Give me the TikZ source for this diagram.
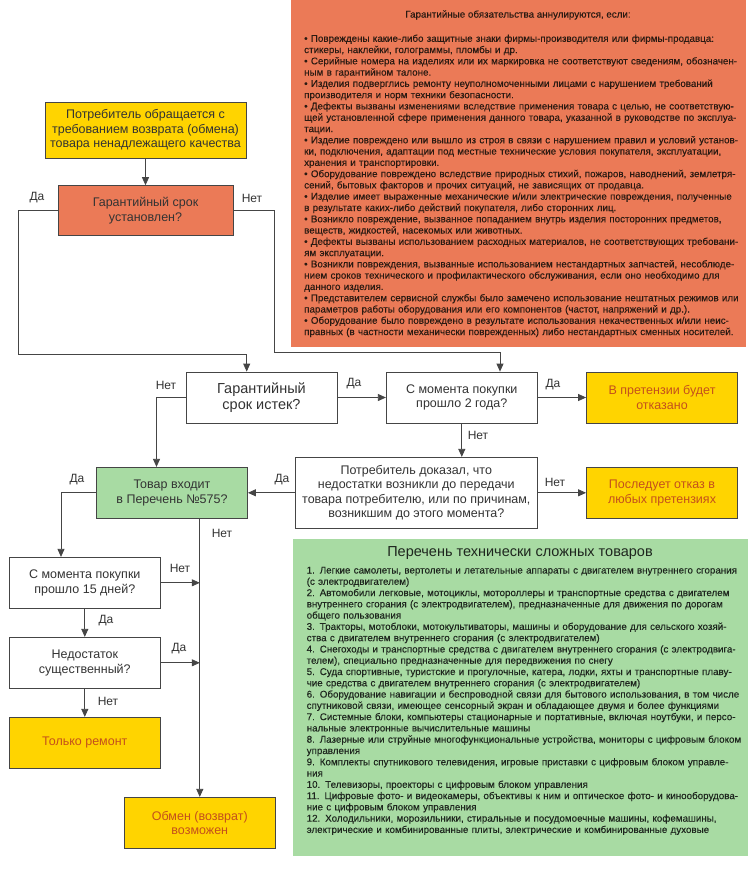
\documentclass[tikz,border=0pt]{standalone}
\usepackage{fontspec}
\setmainfont{Liberation Sans}
\newfontfamily\listfont[FakeBold=0.3]{Liberation Sans}
\usetikzlibrary{arrows.meta}
\definecolor{cyel}{HTML}{FFD400}
\definecolor{corg}{HTML}{EB7A57}
\definecolor{cgrn}{HTML}{A8DBA3}
\definecolor{cline}{HTML}{454545}
\definecolor{ctxt}{HTML}{333333}
\definecolor{cres}{HTML}{C4501C}
\definecolor{otxt}{HTML}{2A1A12}
\definecolor{gtxt}{HTML}{1E261E}
\setlength\parindent{0pt}
\newcommand{\oj}[1]{\makebox[434pt][s]{#1}}
\newcommand{\gj}[1]{\makebox[435pt][s]{#1}}
\begin{document}
\begin{tikzpicture}[x=1pt,y=-1pt,
  box/.style={draw=cline, line width=0.8pt, minimum width=151pt, minimum height=51pt, inner sep=2pt, align=center, font=\fontsize{12.5}{14.5}\selectfont, text=ctxt},
  dec/.style={box, fill=white},
  res/.style={box, fill=cyel, text=cres},
  lbl/.style={font=\fontsize{12}{14}\selectfont, text=ctxt, inner sep=0},
  conn/.style={draw=cline, line width=0.8pt},
  arr/.style={conn, -{Triangle[length=8pt,width=7pt]}},
  listtext/.style={anchor=north west, inner sep=0, align=left, font=\listfont\fontsize{9.8}{11.28}\selectfont},
]
\path[use as bounding box, fill=white] (0,0) rectangle (747,870);

% info panels
\fill[corg] (291,-2) rectangle (745.7,347);
\fill[cgrn] (292.7,539) rectangle (749,856);

\node[font=\listfont\fontsize{9.8}{11.28}\selectfont, text=otxt, inner sep=0] (otitle) at (518,15) {Гарантийные обязательства аннулируются, если:};
\node[listtext, text width=434pt, text=otxt] (olist) at (304,33.6) {\rule{0pt}{8pt}\oj{• Повреждены какие-либо защитные знаки фирмы-производителя или фирмы-продавца:}\\
стикеры, наклейки, голограммы, пломбы и др.\\
\oj{• Серийные номера на изделиях или их маркировка не соответствуют сведениям, обозначен-}\\
ным в гарантийном талоне.\\
\oj{• Изделия подверглись ремонту неуполномоченными лицами с нарушением требований}\\
производителя и норм техники безопасности.\\
\oj{• Дефекты вызваны изменениями вследствие применения товара с целью, не соответствую-}\\
\oj{щей установленной сфере применения данного товара, указанной в руководстве по эксплуа-}\\
тации.\\
\oj{• Изделие повреждено или вышло из строя в связи с нарушением правил и условий установ-}\\
\oj{ки, подключения, адаптации под местные технические условия покупателя, эксплуатации,}\\
хранения и транспортировки.\\
\oj{• Оборудование повреждено вследствие природных стихий, пожаров, наводнений, землетря-}\\
сений, бытовых факторов и прочих ситуаций, не зависящих от продавца.\\
\oj{• Изделие имеет выраженные механические и/или электрические повреждения, полученные}\\
в результате каких-либо действий покупателя, либо сторонних лиц.\\
\oj{• Возникло повреждение, вызванное попаданием внутрь изделия посторонних предметов,}\\
веществ, жидкостей, насекомых или животных.\\
\oj{• Дефекты вызваны использованием расходных материалов, не соответствующих требовани-}\\
ям эксплуатации.\\
\oj{• Возникли повреждения, вызванные использованием нестандартных запчастей, несоблюде-}\\
\oj{нием сроков технического и профилактического обслуживания, если оно необходимо для}\\
данного изделия.\\
\oj{• Представителем сервисной службы было замечено использование нештатных режимов или}\\
параметров работы оборудования или его компонентов (частот, напряжений и др.).\\
\oj{• Оборудование было повреждено в результате использования некачественных и/или неис-}\\
\oj{правных (в частности механически поврежденных) либо нестандартных сменных носителей.}};

\node[font=\fontsize{14.5}{16}\selectfont, text=gtxt, inner sep=0] (gtitle) at (520,553) {Перечень технически сложных товаров};
\node[listtext, text width=435pt, text=gtxt] (glist) at (306.5,565.3) {\rule{0pt}{8pt}\gj{1. Легкие самолеты, вертолеты и летательные аппараты с двигателем внутреннего сгорания}\\
(с электродвигателем)\\
\gj{2. Автомобили легковые, мотоциклы, мотороллеры и транспортные средства с двигателем}\\
\gj{внутреннего сгорания (с электродвигателем), предназначенные для движения по дорогам}\\
общего пользования\\
\gj{3. Тракторы, мотоблоки, мотокультиваторы, машины и оборудование для сельского хозяй-}\\
ства с двигателем внутреннего сгорания (с электродвигателем)\\
\gj{4. Снегоходы и транспортные средства с двигателем внутреннего сгорания (с электродвига-}\\
телем), специально предназначенные для передвижения по снегу\\
\gj{5. Суда спортивные, туристские и прогулочные, катера, лодки, яхты и транспортные плаву-}\\
чие средства с двигателем внутреннего сгорания (с электродвигателем)\\
\gj{6. Оборудование навигации и беспроводной связи для бытового использования, в том числе}\\
спутниковой связи, имеющее сенсорный экран и обладающее двумя и более функциями\\
\gj{7. Системные блоки, компьютеры стационарные и портативные, включая ноутбуки, и персо-}\\
нальные электронные вычислительные машины\\
\gj{8. Лазерные или струйные многофункциональные устройства, мониторы с цифровым блоком}\\
управления\\
\gj{9. Комплекты спутникового телевидения, игровые приставки с цифровым блоком управле-}\\
ния\\
10. Телевизоры, проекторы с цифровым блоком управления\\
\gj{11. Цифровые фото- и видеокамеры, объективы к ним и оптическое фото- и кинооборудова-}\\
ние с цифровым блоком управления\\
\gj{12. Холодильники, морозильники, стиральные и посудомоечные машины, кофемашины,}\\
\gj{электрические и комбинированные плиты, электрические и комбинированные духовые}};

% flowchart nodes
\node[box, fill=cyel, minimum width=201pt, minimum height=56pt] (start) at (145.5,130) {Потребитель обращается с\\требованием возврата (обмена)\\товара ненадлежащего качества};
\node[box, fill=corg, minimum width=175pt, minimum height=50pt] (q1) at (145.5,210.6) {Гарантийный срок\\установлен?};
\node[dec, font=\fontsize{14.5}{16.5}\selectfont] (q2) at (261.5,397.5) {Гарантийный\\срок истек?};
\node[dec] (q3) at (461.8,397.5) {С момента покупки\\прошло 2 года?};
\node[res] (r1) at (662,397.5) {В претензии будет\\отказано};
\node[dec, minimum width=242.7pt, minimum height=71pt] (q4) at (416.3,492.8) {Потребитель доказал, что\\недостатки возникли до передачи\\товара потребителю, или по причинам,\\возникшим до этого момента?};
\node[res] (r2) at (662,492.8) {Последует отказ в\\любых претензиях};
\node[box, fill=cgrn] (q5) at (172,492.8) {Товар входит\\в Перечень №575?};
\node[dec] (q6) at (84.8,582.8) {С момента покупки\\прошло 15 дней?};
\node[dec] (q7) at (84.8,662.8) {Недостаток\\существенный?};
\node[res] (r3) at (84.8,742.8) {Только ремонт};
\node[res] (r4) at (199.8,822.8) {Обмен (возврат)\\возможен};

% helper coordinates
\coordinate (c1) at (18,354);
\coordinate (c2) at (246.7,354);
\coordinate (c3) at (274,352);
\coordinate (c4) at (500,352);
\coordinate (c5) at (156.5,0);
\coordinate (c6) at (61,0);

% connectors
\draw[arr] (start.south) -- (q1.north);
\draw[arr] (q1.west) -| (c1) -- (c2) -- (c2 |- q2.north);
\draw[arr] (q1.east) -| (c3) -- (c4) -- (c4 |- q3.north);
\draw[arr] (q2.west) -| (c5 |- q5.north);
\draw[arr] (q2.east) -- (q3.west);
\draw[arr] (q3.east) -- (r1.west);
\draw[arr] (q3.south) -- (q3.south |- q4.north);
\draw[arr] (q4.west) -- (q5.east);
\draw[arr] (q4.east) -- (r2.west);
\draw[arr] (q5.west) -| (c6 |- q6.north);
\draw[arr] (r4.north |- q5.south) -- (r4.north);
\draw[arr] (q6.east) -- (q6.east -| r4.north);
\draw[arr] (q6.south) -- (q7.north);
\draw[arr] (q7.east) -- (q7.east -| r4.north);
\draw[arr] (q7.south) -- (r3.north);

% labels
\node[lbl] (l1) at (37,198) {Да};
\node[lbl] (l2) at (252,198) {Нет};
\node[lbl] (l3) at (166,385) {Нет};
\node[lbl] (l4) at (354,384) {Да};
\node[lbl] (l5) at (553,385) {Да};
\node[lbl] (l6) at (478,435) {Нет};
\node[lbl] (l7) at (282,480) {Да};
\node[lbl] (l8) at (555,482) {Нет};
\node[lbl] (l9) at (77,480) {Да};
\node[lbl] (l10) at (222,533) {Нет};
\node[lbl] (l11) at (180,568) {Нет};
\node[lbl] (l12) at (106,621) {Да};
\node[lbl] (l13) at (179,649) {Да};
\node[lbl] (l14) at (108,701) {Нет};
\end{tikzpicture}
\end{document}
